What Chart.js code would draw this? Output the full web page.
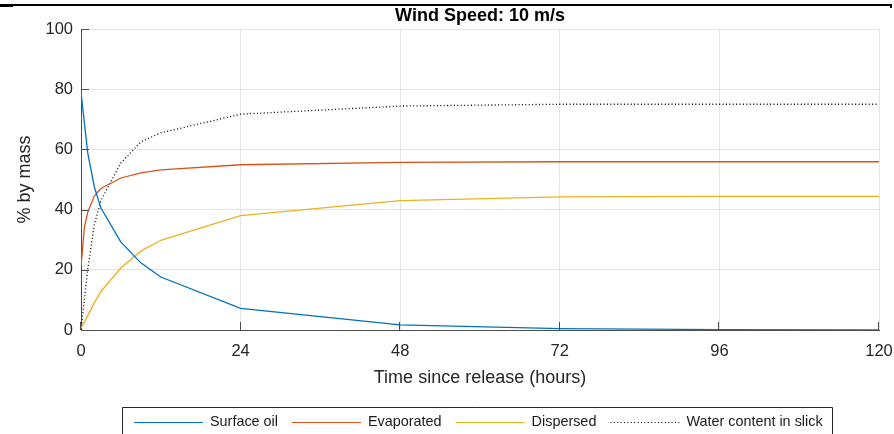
<!DOCTYPE html>
<html><head><meta charset="utf-8">
<script src="https://cdn.jsdelivr.net/npm/chart.js@4.4.1/dist/chart.umd.min.js"></script>
<style>html,body{margin:0;padding:0;background:#fff;}#wrap{width:894px;height:434px;}</style>
</head><body><div id="wrap"><canvas id="c" width="894" height="434"></canvas></div>
<script>
const titleText = 'Wind Speed: 10 m/s';
const xLabel = 'Time since release (hours)';
const yLabel = '% by mass';
const seriesNames = ['Surface oil', 'Evaporated', 'Dispersed', 'Water content in slick'];
const hours = [0, 0.5, 1, 2, 3, 6, 9, 12, 24, 48, 72, 96, 120];
const surfaceOil = [79, 69, 59, 47.6, 40.5, 29.2, 22.3, 17.6, 7.2, 1.7, 0.45, 0.15, 0.05];
const evaporated = [21, 34, 39, 44.5, 47, 50.5, 52.2, 53.2, 54.9, 55.7, 55.9, 55.9, 55.9];
const dispersed = [0.6, 2.6, 4.7, 9, 12.8, 20.6, 26.2, 29.8, 38, 43, 44.2, 44.4, 44.4];
const waterContent = [0, 10, 20, 35, 43, 55.5, 62.5, 65.5, 71.7, 74.4, 75, 75, 75];
const xTicks = [0, 24, 48, 72, 96, 120];
const yTicks = [0, 20, 40, 60, 80, 100];

const FONT = "'Liberation Sans', Arial, sans-serif";
const pts = arr => hours.map((h, i) => ({x: h, y: arr[i]}));
const styles = [
  {color: '#0072BD', dash: []},
  {color: '#D95319', dash: []},
  {color: '#EDB120', dash: []},
  {color: '#000000', dash: [1, 2.4]}
];
const seriesData = [surfaceOil, evaporated, dispersed, waterContent];

const decor = {
  id: 'decor',
  afterDraw(chart) {
    const ctx = chart.ctx;
    const a = chart.chartArea;
    const xs = chart.scales.x, ys = chart.scales.y;
    ctx.save();
    // inward tick marks
    ctx.strokeStyle = '#4d4d4d';
    ctx.lineWidth = 1;
    ctx.beginPath();
    yTicks.forEach(v => {
      const y = Math.round(ys.getPixelForValue(v)) + 0.5;
      ctx.moveTo(a.left, y); ctx.lineTo(a.left + 8, y);
    });
    xTicks.forEach(v => {
      const x = Math.round(xs.getPixelForValue(v)) - 0.5;
      ctx.moveTo(x, a.bottom); ctx.lineTo(x, a.bottom - 8);
    });
    ctx.stroke();
    // top black rule
    ctx.fillStyle = '#000';
    ctx.fillRect(0, 4, 892, 2);
    ctx.fillRect(0, 6, 13, 1);
    ctx.fillRect(890, 4, 2, 4);
    // legend
    ctx.font = '14.4px ' + FONT;
    ctx.textBaseline = 'middle';
    const ly = 422;
    let x = 134;
    const items = chart.data.datasets.map(d => d.label);
    const boxLeft = 122;
    items.forEach((lab, i) => {
      const st = styles[i];
      ctx.strokeStyle = st.color;
      ctx.lineWidth = 1.2;
      ctx.setLineDash(st.dash);
      ctx.beginPath();
      ctx.moveTo(x, ly + 0.5); ctx.lineTo(x + 69, ly + 0.5);
      ctx.stroke();
      ctx.setLineDash([]);
      x += 69 + 7;
      ctx.fillStyle = '#1a1a1a';
      ctx.textAlign = 'left';
      ctx.fillText(lab, x, ly);
      x += ctx.measureText(lab).width + 14;
    });
    const boxRight = x - 14 + 9;
    ctx.strokeStyle = '#262626';
    ctx.lineWidth = 1;
    ctx.beginPath();
    ctx.moveTo(boxLeft + 0.5, 440);
    ctx.lineTo(boxLeft + 0.5, 407.5);
    ctx.lineTo(Math.round(boxRight) + 0.5, 407.5);
    ctx.lineTo(Math.round(boxRight) + 0.5, 440);
    ctx.stroke();
    ctx.restore();
  }
};

new Chart(document.getElementById('c'), {
  type: 'line',
  data: {
    datasets: seriesData.map((arr, i) => ({
      label: seriesNames[i],
      data: pts(arr),
      borderColor: styles[i].color,
      backgroundColor: styles[i].color,
      borderDash: styles[i].dash,
      borderWidth: 1.3,
      pointRadius: 0,
      tension: 0,
      fill: false
    }))
  },
  options: {
    responsive: false,
    animation: false,
    devicePixelRatio: 1,
    layout: {padding: {left: 0, right: 15, top: 0, bottom: 0}},
    plugins: {
      legend: {display: false},
      tooltip: {enabled: false},
      title: {
        display: true,
        text: titleText,
        fullSize: false,
        color: '#000',
        font: {family: FONT, size: 18, weight: 'bold', lineHeight: 1.2},
        padding: {top: 5, bottom: 2.4}
      }
    },
    scales: {
      x: {
        type: 'linear',
        min: 0, max: 120,
        afterBuildTicks: s => { s.ticks = xTicks.map(v => ({value: v})); },
        afterFit: s => { s.height = 104; s.paddingLeft = 0; s.paddingRight = 0; },
        ticks: {color: '#262626', font: {family: FONT, size: 16.5}, padding: 12, maxRotation: 0},
        grid: {color: '#e3e3e3', lineWidth: 1, drawTicks: false},
        border: {display: true, color: '#4d4d4d', width: 1},
        title: {display: true, text: xLabel, color: '#262626', font: {family: FONT, size: 18, lineHeight: 1.2}, padding: {top: 0, bottom: 45}}
      },
      y: {
        type: 'linear',
        min: 0, max: 100,
        afterBuildTicks: s => { s.ticks = yTicks.map(v => ({value: v})); },
        afterFit: s => { s.width = 81; s.paddingTop = 0; s.paddingBottom = 0; },
        ticks: {color: '#262626', font: {family: FONT, size: 16.5}, padding: 8},
        grid: {color: '#e3e3e3', lineWidth: 1, drawTicks: false},
        border: {display: true, color: '#4d4d4d', width: 1},
        title: {display: true, text: yLabel, color: '#262626', font: {family: FONT, size: 18, lineHeight: 1.2}, padding: {top: 14, bottom: 0}}
      }
    }
  },
  plugins: [decor]
});
</script>
</body></html>
